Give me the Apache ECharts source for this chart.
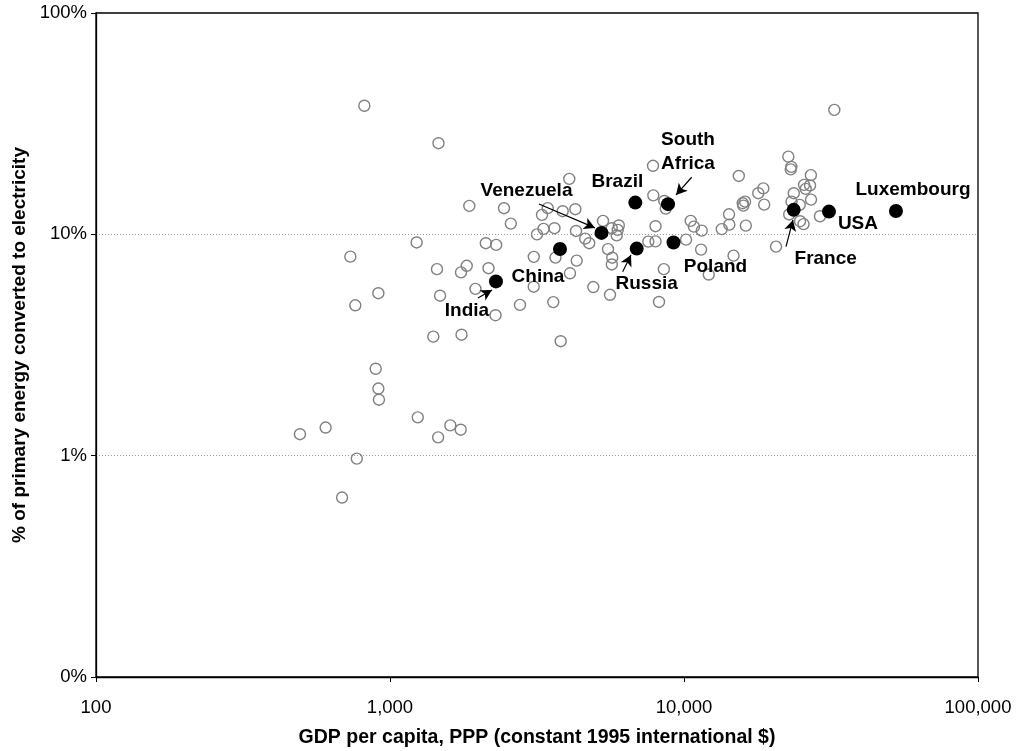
<!DOCTYPE html>
<html>
<head>
<meta charset="utf-8">
<script src="https://cdn.jsdelivr.net/npm/echarts@6/dist/echarts.min.js"></script>
<style>
html,body{margin:0;padding:0;background:#fff;}
#chart{width:1021px;height:751px;}
</style>
</head>
<body>
<div id="chart"></div>
<script>
// GDP per capita (PPP, constant 1995 intl $) and share of primary energy converted to electricity (fraction)
var otherGdp = [818,1462,32450,4072,7845,7863,8570,8666,1861,2442,2576,3289,3328,3162,3439,3867,4269,3626,4293,5303,
  5678,6002,5951,5904,4612,4760,8002,10540,10810,10160,8002,7561,1232,2118,2297,3084,3655,4315,5515,5700,
  5682,4094,733,1445,1824,1744,2163,3082,1953,913,762,1480,2768,2285,4915,5602,8539,8222,3592,1404,
  1751,3807,11490,11430,12140,15360,14230,14260,13440,16230,14740,15840,16130,15910,17890,18610,18740,20560,22640,23070,
  23180,27010,25600,26840,25940,23630,27040,23210,24750,22790,25500,24810,29010,894,913,917,1243,1458,1604,1740,
  494,604,771,687];
var otherShare = [0.381,0.258,0.365,0.178,0.204,0.150,0.1415,0.1307,0.1344,0.1312,0.1118,0.1224,0.1058,0.100,0.1313,0.1272,0.1299,0.1066,0.1036,0.115,
  0.1066,0.1097,0.1047,0.0989,0.0956,0.0912,0.1088,0.115,0.1083,0.0946,0.0929,0.0927,0.0919,0.0912,0.0896,0.0791,0.0785,0.0761,0.0857,0.0784,
  0.0731,0.0667,0.0793,0.0696,0.0721,0.0673,0.0703,0.0580,0.0567,0.0542,0.0478,0.0528,0.0480,0.0431,0.0578,0.0533,0.0696,0.0495,0.0494,0.0345,
  0.0352,0.0329,0.1039,0.0853,0.0658,0.1836,0.1232,0.1106,0.1056,0.1095,0.0801,0.1382,0.1405,0.1348,0.1534,0.1613,0.1362,0.0880,0.2244,0.1965,
  0.2017,0.1851,0.1672,0.1663,0.1604,0.1534,0.1435,0.1405,0.1358,0.1230,0.1112,0.1146,0.1207,0.0247,0.0201,0.0179,0.0149,0.0121,0.0137,0.0131,
  0.0125,0.0134,0.0097,0.00647];

var namedCountries = ['India','China','Venezuela','Brazil','South\nAfrica','Russia','Poland','France','USA','Luxembourg'];
var namedGdp   = [2293,3786,5241,6830,8823,6904,9211,23610,31120,52600];
var namedShare = [0.0613,0.0859,0.1015,0.1391,0.1369,0.0862,0.0919,0.1290,0.1267,0.1275];

// arrows: [fromGdp, fromShare, toGdp, toShare]
var arrowLines = [
  [1991,0.0516,2223,0.0561],
  [3210,0.1372,4981,0.1069],
  [10620,0.1811,9393,0.1507],
  [6187,0.0678,6602,0.0807],
  [22230,0.0880,23480,0.1162]
];

var xTicks = [100,1000,10000,100000];
var yTicks = [0.001,0.01,0.1,1];

// label placement relative to the marker centre (style only)
var labelOffsets = [[-29,29],[-22,28],[-75,-42],[-18,-21],[20,-52],[10,35],[42,24],[32,49],[29,12],[17,-21]];

var otherData = otherGdp.map(function(g,i){return [g, otherShare[i]];});
var namedData = namedGdp.map(function(g,i){
  return {value:[g, namedShare[i]], name:namedCountries[i]};
});
var arrowData = arrowLines.map(function(a){
  return [{coord:[a[0],a[1]]},{coord:[a[2],a[3]]}];
});

var font = '"Liberation Sans", Arial, Helvetica, sans-serif';
var chart = echarts.init(document.getElementById('chart'), null, {renderer:'canvas'});
chart.setOption({
  animation:false,
  backgroundColor:'#fff',
  grid:{left:96,right:43,top:13,bottom:74,show:true,borderColor:'#000',borderWidth:1.3,
    containLabel:false,outerBoundsMode:'none'},
  xAxis:{
    type:'log',logBase:10,min:xTicks[0],max:xTicks[xTicks.length-1],
    name:'GDP per capita, PPP (constant 1995 international $)',
    nameLocation:'middle',nameGap:51,
    nameTextStyle:{fontFamily:font,fontSize:19.5,fontWeight:'bold',color:'#000'},
    axisLine:{lineStyle:{color:'#000',width:1.3}},
    axisTick:{show:true,length:5,lineStyle:{color:'#000'}},
    minorTick:{show:false},
    splitLine:{show:false},
    axisLabel:{fontFamily:font,fontSize:18.5,color:'#000',margin:21,
      formatter:function(v){return Math.round(v).toLocaleString('en-US');}}
  },
  yAxis:{
    type:'log',logBase:10,min:yTicks[0],max:yTicks[yTicks.length-1],
    name:'% of primary energy converted to electricity',
    nameLocation:'middle',nameGap:60,
    nameTextStyle:{fontFamily:font,fontSize:19,fontWeight:'bold',color:'#000'},
    axisLine:{lineStyle:{color:'#000',width:1.3}},
    axisTick:{show:true,length:5,lineStyle:{color:'#000'}},
    splitLine:{show:true,showMinLine:false,showMaxLine:false,lineStyle:{color:'#999',type:[1,2],width:1}},
    axisLabel:{fontFamily:font,fontSize:18.5,color:'#000',margin:9,
      formatter:function(v){return Math.round(v*100)+'%';}}
  },
  series:[
    {
      type:'scatter',data:otherData,symbol:'circle',symbolSize:11,
      itemStyle:{color:'rgba(255,255,255,0)',borderColor:'#808080',borderWidth:1.4,opacity:1},
      z:2
    },
    {
      type:'scatter',data:namedData,symbol:'circle',symbolSize:14,
      itemStyle:{color:'#000',opacity:1},
      label:{show:true,position:'inside',formatter:'{b}',fontFamily:font,fontSize:19,fontWeight:'bold',
        color:'#000',align:'center',verticalAlign:'middle',lineHeight:24},
      labelLayout:function(params){
        var o = labelOffsets[params.dataIndex];
        var r = params.rect;
        return {x:r.x + r.width/2 + o[0], y:r.y + r.height/2 + o[1], align:'center', verticalAlign:'middle', hideOverlap:false};
      },
      z:4,
      markLine:{
        silent:true,symbol:['none','arrow'],symbolSize:[9,11],
        lineStyle:{color:'#000',width:1.2,type:'solid'},
        label:{show:false},
        data:arrowData,
        z:5
      }
    }
  ]
});
</script>
</body>
</html>
